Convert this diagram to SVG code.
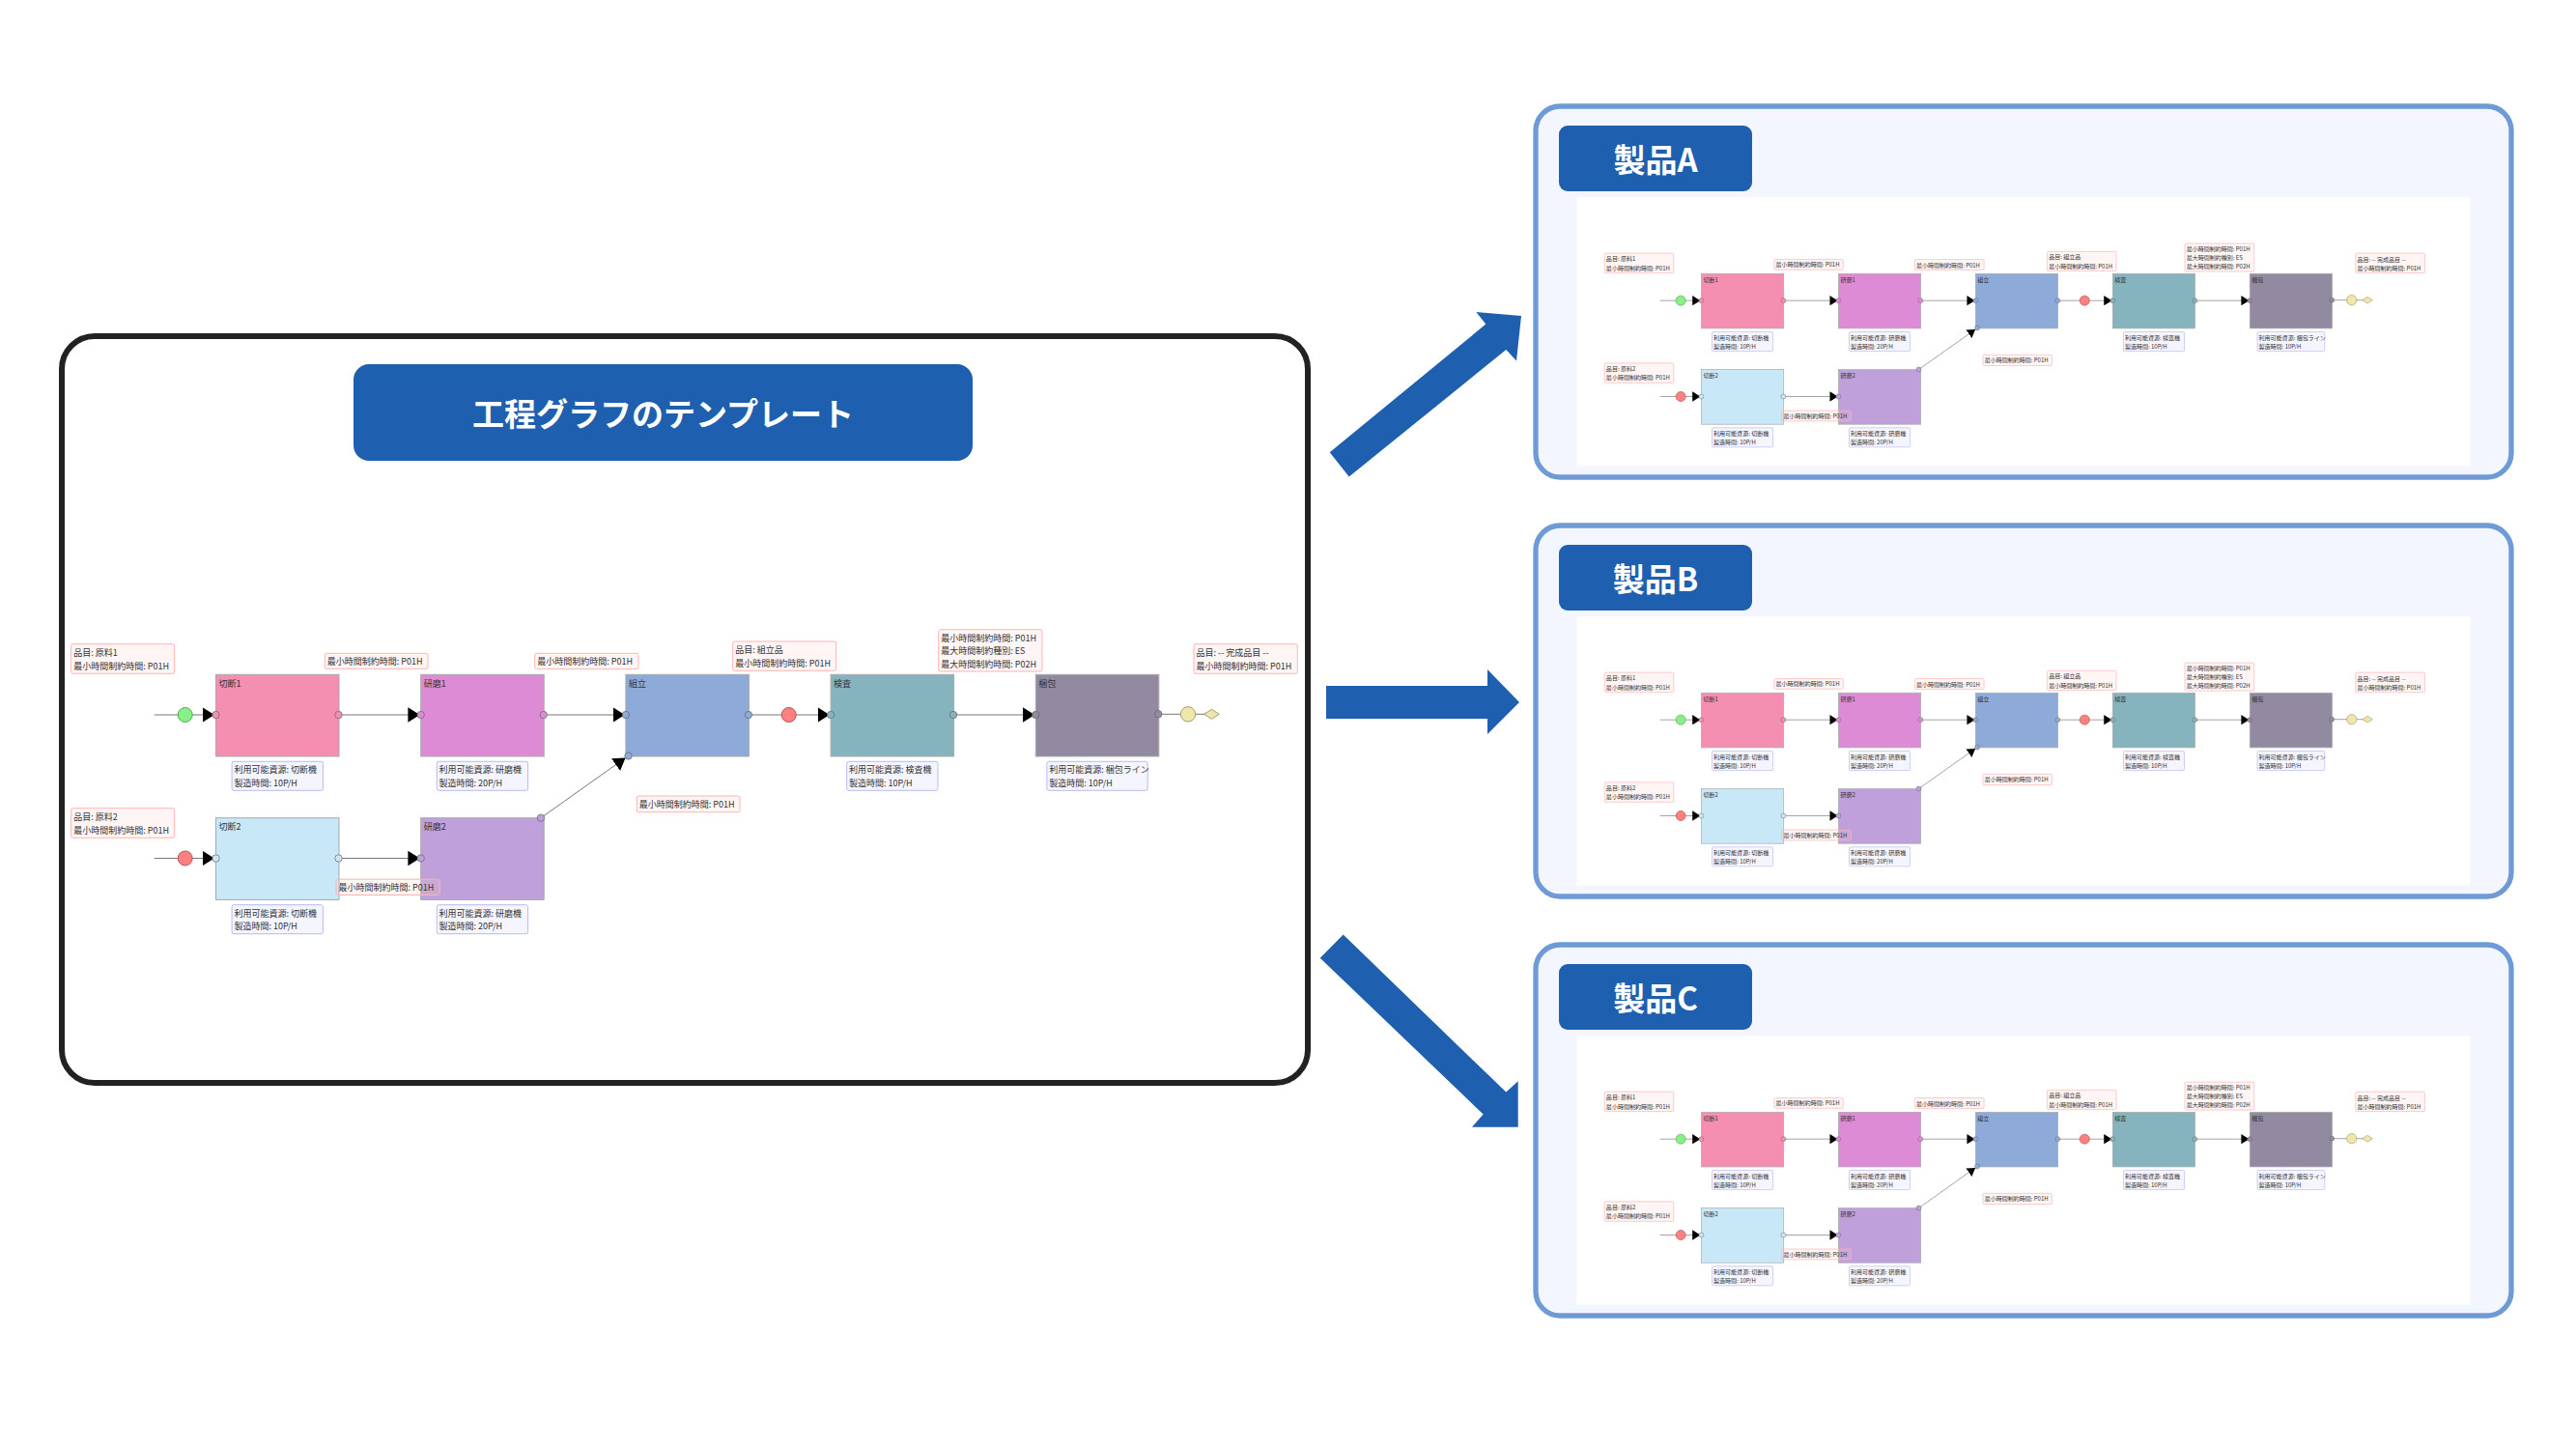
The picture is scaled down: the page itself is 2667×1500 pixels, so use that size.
<svg xmlns="http://www.w3.org/2000/svg" width="2667" height="1500" viewBox="0 0 2667 1500">
<style>
.t{font-family:"Noto Sans CJK JP","Noto Sans",sans-serif;font-size:9px;fill:#333;dominant-baseline:central}
.note{fill:#FFCCCC;fill-opacity:.2;stroke:#FFB3B3;stroke-width:1}
.lbl{fill:#CCCCFF;fill-opacity:.2;stroke:#B8B8F5;stroke-width:1}
.nd{stroke:#A8A8A8;stroke-width:1}
.port{stroke:#666;stroke-width:.7}
.edge{stroke:#777;stroke-width:1;fill:none}
.big{fill:#1F5FAF}
.ttl{font-family:"Noto Sans CJK JP","Noto Sans",sans-serif;font-weight:700;fill:#fff;text-anchor:middle;dominant-baseline:central}
.panel{fill:#F3F6FE;stroke:#6E9BD5;stroke-width:5.3}
.tbox{fill:#1F5FAF}
</style>
<defs>
<marker id="ah" markerUnits="userSpaceOnUse" markerWidth="13" markerHeight="16" refX="12.3" refY="7.7" orient="auto"><path d="M0,0 L12.3,7.7 L0,15.4 Z" fill="#000"/></marker>
</defs>
<rect x="0" y="0" width="2667" height="1500" fill="#fff"/>

<g id="template-box">
<rect x="64" y="348" width="1290" height="773" rx="34" fill="#fff" stroke="#222" stroke-width="6"/>
<rect x="366" y="377" width="641" height="100" rx="16" class="tbox"/>
<text x="686.5" y="427" class="ttl" font-size="33">工程グラフのテンプレート</text>
</g>

<g id="graph-template">
<g id="connectors">
<line class="edge" x1="159.7" y1="740" x2="222" y2="740" marker-end="url(#ah)"/>
<line class="edge" x1="159.7" y1="888.5" x2="222" y2="888.5" marker-end="url(#ah)"/>
<line class="edge" x1="350.5" y1="740" x2="434.7" y2="740" marker-end="url(#ah)"/>
<line class="edge" x1="562.7" y1="740" x2="646.9" y2="740" marker-end="url(#ah)"/>
<line class="edge" x1="774.9" y1="740" x2="858.9" y2="740" marker-end="url(#ah)"/>
<line class="edge" x1="987.1" y1="740" x2="1071.3" y2="740" marker-end="url(#ah)"/>
<line class="edge" x1="1199.3" y1="739.3" x2="1254.5" y2="739.3"/>
<line class="edge" x1="350.5" y1="888.5" x2="434.7" y2="888.5" marker-end="url(#ah)"/>
<line class="edge" x1="560" y1="846.7" x2="647.6" y2="784.5" marker-end="url(#ah)"/>
</g>

<g id="src1">
<circle cx="191.7" cy="740" r="7.5" fill="#88F088" stroke="#55AA55" stroke-width="1"/>
<rect class="note" x="73.7" y="666.7" width="107" height="30.6" rx="2"/>
<text class="t" x="76.2" y="675.3">品目: 原料1</text>
<text class="t" x="76.2" y="689">最小時間制約時間: P01H</text>
</g>
<g id="src2">
<circle cx="191.7" cy="888.5" r="7.5" fill="#FF8080" stroke="#B05555" stroke-width="1"/>
<rect class="note" x="73.7" y="836.7" width="107" height="30.6" rx="2"/>
<text class="t" x="76.2" y="845.3">品目: 原料2</text>
<text class="t" x="76.2" y="859">最小時間制約時間: P01H</text>
</g>

<g id="n-cut1">
<rect class="nd" x="223.5" y="698.3" width="127.5" height="84.7" fill="#F48FB1"/>
<text class="t" x="226.5" y="707.3">切断1</text>
<circle class="port" cx="223.5" cy="740" r="3.7" fill="#F48FB1"/>
<circle class="port" cx="350.5" cy="740" r="3.7" fill="#F48FB1"/>
<rect class="lbl" x="240.1" y="788.3" width="94.3" height="30" rx="2"/>
<text class="t" x="242.4" y="796.7">利用可能資源: 切断機</text>
<text class="t" x="242.4" y="810.3">製造時間: 10P/H</text>
</g>
<g id="n-grind1">
<rect class="nd" x="435.7" y="698.3" width="127.5" height="84.7" fill="#DE8BD6"/>
<text class="t" x="438.7" y="707.3">研磨1</text>
<circle class="port" cx="435.7" cy="740" r="3.7" fill="#DE8BD6"/>
<circle class="port" cx="562.7" cy="740" r="3.7" fill="#DE8BD6"/>
<rect class="lbl" x="452.3" y="788.3" width="94.3" height="30" rx="2"/>
<text class="t" x="454.6" y="796.7">利用可能資源: 研磨機</text>
<text class="t" x="454.6" y="810.3">製造時間: 20P/H</text>
</g>
<g id="n-assy">
<rect class="nd" x="647.9" y="698.3" width="127.5" height="84.7" fill="#8DAAD9"/>
<text class="t" x="650.9" y="707.3">組立</text>
<circle class="port" cx="647.9" cy="740" r="3.7" fill="#8DAAD9"/>
<circle class="port" cx="774.9" cy="740" r="3.7" fill="#8DAAD9"/>
<circle class="port" cx="650.5" cy="782.5" r="3.7" fill="#8DAAD9"/>
</g>
<g id="n-insp">
<rect class="nd" x="860.1" y="698.3" width="127.5" height="84.7" fill="#85B4BE"/>
<text class="t" x="863.1" y="707.3">検査</text>
<circle class="port" cx="860.1" cy="740" r="3.7" fill="#85B4BE"/>
<circle class="port" cx="987.1" cy="740" r="3.7" fill="#85B4BE"/>
<rect class="lbl" x="876.7" y="788.3" width="94.3" height="30" rx="2"/>
<text class="t" x="879" y="796.7">利用可能資源: 検査機</text>
<text class="t" x="879" y="810.3">製造時間: 10P/H</text>
</g>
<g id="n-pack">
<rect class="nd" x="1072.3" y="698.3" width="127.5" height="84.7" fill="#928AA0"/>
<text class="t" x="1075.3" y="707.3">梱包</text>
<circle class="port" cx="1072.3" cy="740" r="3.7" fill="#928AA0"/>
<circle class="port" cx="1199.3" cy="739.3" r="3.7" fill="#928AA0"/>
<rect class="lbl" x="1083.9" y="788.3" width="104.3" height="30" rx="2"/>
<text class="t" x="1086.2" y="796.7">利用可能資源: 梱包ライン</text>
<text class="t" x="1086.2" y="810.3">製造時間: 10P/H</text>
</g>
<g id="n-cut2">
<rect class="nd" x="223.5" y="846.7" width="127.5" height="84.7" fill="#C8E8F8"/>
<text class="t" x="226.5" y="855.8">切断2</text>
<circle class="port" cx="223.5" cy="888.5" r="3.7" fill="#C8E8F8"/>
<circle class="port" cx="350.5" cy="888.5" r="3.7" fill="#C8E8F8"/>
<rect class="lbl" x="240.1" y="936.7" width="94.3" height="30" rx="2"/>
<text class="t" x="242.4" y="945.1">利用可能資源: 切断機</text>
<text class="t" x="242.4" y="958.7">製造時間: 10P/H</text>
</g>
<g id="n-grind2">
<rect class="nd" x="435.7" y="846.7" width="127.5" height="84.7" fill="#BFA0DA"/>
<text class="t" x="438.7" y="855.8">研磨2</text>
<circle class="port" cx="435.7" cy="888.5" r="3.7" fill="#BFA0DA"/>
<circle class="port" cx="560" cy="846.7" r="3.7" fill="#BFA0DA"/>
<rect class="lbl" x="452.3" y="936.7" width="94.3" height="30" rx="2"/>
<text class="t" x="454.6" y="945.1">利用可能資源: 研磨機</text>
<text class="t" x="454.6" y="958.7">製造時間: 20P/H</text>
</g>

<g id="item-assy">
<circle cx="816.7" cy="740" r="7.5" fill="#FF8080" stroke="#B05555" stroke-width="1"/>
<rect class="note" x="758.7" y="664" width="107" height="30.3" rx="2"/>
<text class="t" x="761.2" y="672.5">品目: 組立品</text>
<text class="t" x="761.2" y="686.2">最小時間制約時間: P01H</text>
</g>
<g id="sink">
<circle cx="1230" cy="739.3" r="7.7" fill="#EEE6AA" stroke="#A89F6A" stroke-width="1"/>
<path d="M1246.7,739.3 L1254.5,734.3 L1262.3,739.3 L1254.5,744.3 Z" fill="#EEE6AA" stroke="#A89F6A" stroke-width="1"/>
<rect class="note" x="1236" y="666.7" width="107.3" height="30.6" rx="2"/>
<text class="t" x="1238.5" y="675.5">品目: -- 完成品目 --</text>
<text class="t" x="1238.5" y="689.2">最小時間制約時間: P01H</text>
</g>

<g id="edge-labels">
<rect class="note" x="336.3" y="676.3" width="106.7" height="16" rx="2"/>
<text class="t" x="338.8" y="684.3">最小時間制約時間: P01H</text>
<rect class="note" x="553.7" y="676.3" width="107.3" height="16.3" rx="2"/>
<text class="t" x="556.2" y="684.5">最小時間制約時間: P01H</text>
<rect class="note" x="348" y="910.2" width="107.3" height="16.3" rx="2"/>
<text class="t" x="350.5" y="918.4">最小時間制約時間: P01H</text>
<rect class="note" x="659.3" y="824" width="106.7" height="16.7" rx="2"/>
<text class="t" x="661.8" y="832.4">最小時間制約時間: P01H</text>
<rect class="note" x="971.7" y="651.7" width="107.3" height="43.3" rx="2"/>
<text class="t" x="974.2" y="660">最小時間制約時間: P01H</text>
<text class="t" x="974.2" y="673.7">最大時間制約種別: ES</text>
<text class="t" x="974.2" y="687">最大時間制約時間: P02H</text>
</g>
</g>

<g id="big-arrows">
<polygon class="big" points="1376.7,468.2 1538.3,335.6 1528.3,323 1575,327 1570,373.5 1559.3,362 1396.7,493.5"/>
<polygon class="big" points="1373,710 1540,710 1540,693 1573,727 1540,760 1540,744 1373,744"/>
<polygon class="big" points="1390.7,967.6 1559.3,1130.6 1571.7,1119.2 1571.7,1166.8 1524,1166.8 1535.7,1153.6 1366.7,991.7"/>
</g>

<g id="panel-a">
<rect class="panel" x="1590" y="110" width="1010" height="384" rx="25"/>
<rect x="1632.7" y="204.3" width="924.6" height="278.4" fill="#fff"/>
<use href="#graph-template" transform="translate(1611.9,-183.9) scale(0.669)"/>
<rect class="tbox" x="1614" y="130" width="200" height="68" rx="9"/>
<text class="ttl" x="1714" y="164" font-size="33">製品A</text>
</g>
<g id="panel-b">
<rect class="panel" x="1590" y="544" width="1010" height="384" rx="25"/>
<rect x="1632.7" y="638.3" width="924.6" height="278.4" fill="#fff"/>
<use href="#graph-template" transform="translate(1611.9,250.1) scale(0.669)"/>
<rect class="tbox" x="1614" y="564" width="200" height="68" rx="9"/>
<text class="ttl" x="1714" y="598" font-size="33">製品B</text>
</g>
<g id="panel-c">
<rect class="panel" x="1590" y="978" width="1010" height="384" rx="25"/>
<rect x="1632.7" y="1072.3" width="924.6" height="278.4" fill="#fff"/>
<use href="#graph-template" transform="translate(1611.9,684.1) scale(0.669)"/>
<rect class="tbox" x="1614" y="998" width="200" height="68" rx="9"/>
<text class="ttl" x="1714" y="1032" font-size="33">製品C</text>
</g>
</svg>
